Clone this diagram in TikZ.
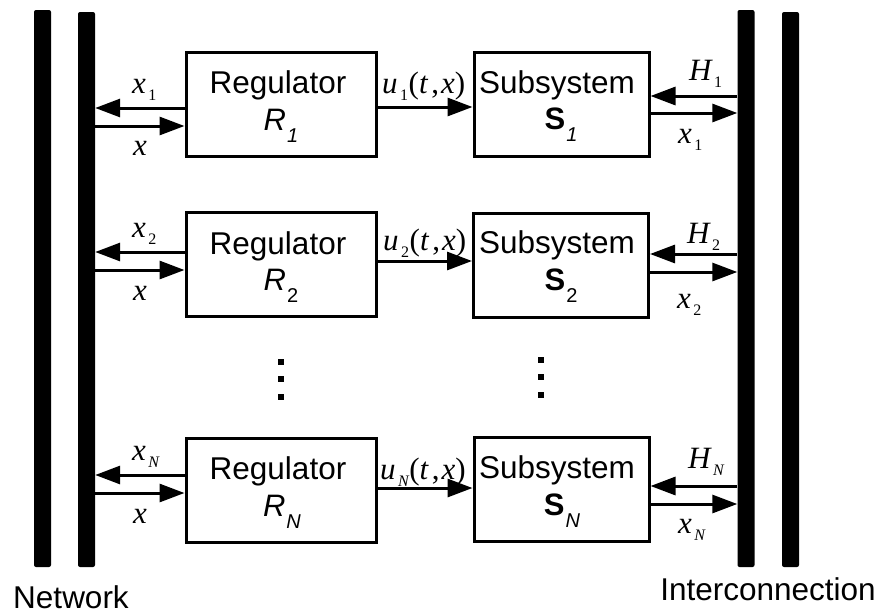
\documentclass[tikz,border=0pt]{standalone}
\usepackage{fontspec}
\setmainfont{Liberation Sans}
\newfontfamily\tnr{Liberation Serif}
\usetikzlibrary{arrows.meta}

% type sizes
\newcommand\bigsans{\fontsize{31.5}{32}\selectfont}
\newcommand\symsize{\fontsize{31}{32}\selectfont}
\newcommand\subsize{\fontsize{20}{20}\selectfont}
% serif signal label: letter with a lowered index
\newcommand\mlab[2]{{\tnr\fontsize{31}{32}\selectfont\itshape #1}\hspace{2.5pt}\raisebox{-7pt}{\tnr\fontsize{16}{16}\selectfont #2}}
\newcommand\argtx{{\tnr\fontsize{31}{32}\selectfont\hspace{0.5pt}(\textit{t}\hspace{3pt},\hspace{2pt}\textit{x})}}
% block symbol with a lowered index
\newcommand\blocksym[2]{{#1}\hspace{1pt}\raisebox{-12pt}{\subsize #2}}

\tikzset{
  blk/.style={draw, line width=3pt, inner sep=0pt},
  regbox/.style={blk, minimum width=190pt, minimum height=104pt},
  subbox/.style={blk, minimum width=175pt, minimum height=104pt},
  bus/.style={fill=black, draw=none, rounded corners=2pt, inner sep=0pt, minimum width=17pt},
  arr/.style={line width=3pt, -{Triangle[length=25pt,width=18pt]}},
  txt/.style={inner sep=0pt, anchor=base},
  lab/.style={inner sep=0pt, anchor=base west},
  dotsq/.style={fill=black}
}

\begin{document}
\begin{tikzpicture}[x=1pt,y=-1pt]
\useasboundingbox (0,0) rectangle (882,613);

% buses
\node[bus, minimum height=557pt] (NB1) at (42.5,288.5) {};
\node[bus, minimum height=555pt] (NB2) at (86.5,289.5) {};
\node[bus, minimum height=557pt] (IB1) at (746,288.5) {};
\node[bus, minimum height=555pt] (IB2) at (790.5,289.5) {};
\node[txt] (netlab) at (71,608) {\bigsans Network};
\node[txt] (intlab) at (768,600) {\bigsans Interconnection};

% blocks
\node[regbox] (R1) at (281,104) {};
\node[subbox] (S1) at (561.5,104) {};
\node[regbox] (R2) at (281,264) {};
\node[subbox] (S2) at (561,265.5) {};
\node[regbox] (RN) at (281,490.5) {};
\node[subbox] (SN) at (561.5,489.5) {};

% block texts
\node[txt] (R1a) at (278,93) {\bigsans Regulator};
\node[txt] (R1b) at (281,130) {\blocksym{\symsize\itshape R}{\itshape 1}};
\node[txt] (S1a) at (557,93) {\bigsans Subsystem};
\node[txt] (S1b) at (561,129) {\blocksym{\symsize\bfseries S}{\itshape 1}};
\node[txt] (R2a) at (278,254) {\bigsans Regulator};
\node[txt] (R2b) at (281,290) {\blocksym{\symsize\itshape R}{2}};
\node[txt] (S2a) at (557,253) {\bigsans Subsystem};
\node[txt] (S2b) at (561,290) {\blocksym{\symsize\bfseries S}{2}};
\node[txt] (RNa) at (278,479) {\bigsans Regulator};
\node[txt] (RNb) at (282,516) {\blocksym{\symsize\itshape R}{\itshape N}};
\node[txt] (SNa) at (557,478) {\bigsans Subsystem};
\node[txt] (SNb) at (562,515) {\blocksym{\symsize\bfseries S}{\itshape N}};

% signal levels
\coordinate (a1) at (0,108);  \coordinate (b1) at (0,126);
\coordinate (u1) at (0,107);
\coordinate (h1) at (0,96);   \coordinate (y1) at (0,113);
\coordinate (a2) at (0,252);  \coordinate (b2) at (0,270);
\coordinate (u2) at (0,261);
\coordinate (h2) at (0,254);  \coordinate (y2) at (0,272);
\coordinate (aN) at (0,475);  \coordinate (bN) at (0,493);
\coordinate (uN) at (0,488);
\coordinate (hN) at (0,486);  \coordinate (yN) at (0,504);

% row 1
\draw[arr] (R1.west |- a1) -- (NB2.east |- a1);
\draw[arr] (NB2.east |- b1) -- (R1.west |- b1);
\draw[arr] (R1.east |- u1) -- (S1.west |- u1);
\draw[arr] (IB1.west |- h1) -- (S1.east |- h1);
\draw[arr] (S1.east |- y1) -- (IB1.west |- y1);
% row 2
\draw[arr] (R2.west |- a2) -- (NB2.east |- a2);
\draw[arr] (NB2.east |- b2) -- (R2.west |- b2);
\draw[arr] (R2.east |- u2) -- (S2.west |- u2);
\draw[arr] (IB1.west |- h2) -- (S2.east |- h2);
\draw[arr] (S2.east |- y2) -- (IB1.west |- y2);
% row N
\draw[arr] (RN.west |- aN) -- (NB2.east |- aN);
\draw[arr] (NB2.east |- bN) -- (RN.west |- bN);
\draw[arr] (RN.east |- uN) -- (SN.west |- uN);
\draw[arr] (IB1.west |- hN) -- (SN.east |- hN);
\draw[arr] (SN.east |- yN) -- (IB1.west |- yN);

% signal labels
\node[lab] (l1a) at (132,93)  {\mlab{x}{1}};
\node[lab] (l1b) at (133,155) {\mlab{x}{}};
\node[lab] (l1u) at (382,93)  {\mlab{u}{1}\argtx};
\node[lab] (l1h) at (689,80)  {\mlab{H}{1}};
\node[lab] (l1y) at (678,143) {\mlab{x}{1}};
\node[lab] (l2a) at (132,237) {\mlab{x}{2}};
\node[lab] (l2b) at (133,300) {\mlab{x}{}};
\node[lab] (l2u) at (383,250) {\mlab{u}{2}\argtx};
\node[lab] (l2h) at (687,243) {\mlab{H}{2}};
\node[lab] (l2y) at (677,308) {\mlab{x}{2}};
\node[lab] (lNa) at (132,460) {\mlab{x}{\itshape N}};
\node[lab] (lNb) at (133,523) {\mlab{x}{}};
\node[lab] (lNu) at (380,479) {\mlab{u}{\itshape N}\argtx};
\node[lab] (lNh) at (688,468) {\mlab{H}{\itshape N}};
\node[lab] (lNy) at (678,533) {\mlab{x}{\itshape N}};

% vertical ellipses
\foreach \yy in {362,379,397} \fill[dotsq] (278,\yy-3) rectangle +(6,6);
\foreach \yy in {360,377,395} \fill[dotsq] (538,\yy-3) rectangle +(6,6);
\end{tikzpicture}
\end{document}
